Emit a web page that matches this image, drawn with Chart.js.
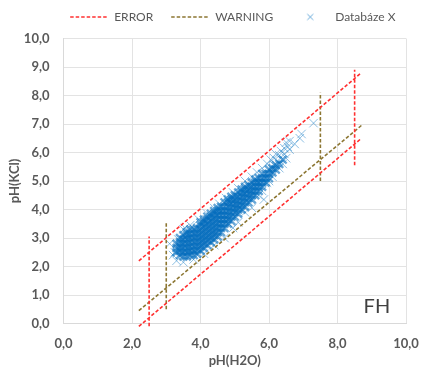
<!DOCTYPE html>
<html>
<head>
<meta charset="utf-8">
<script src="https://cdn.jsdelivr.net/npm/chart.js@4.4.1/dist/chart.umd.min.js"></script>
<style>
  html, body { margin: 0; padding: 0; background: #fff; }
</style>
</head>
<body>
<canvas id="phChart" width="423" height="370"></canvas>
<script>
// Databáze X - hustý shluk bodů [pH(H2O), pH(KCl)]
const jadro = [
  [3.3,2.5],[3.3,2.65],[3.3,2.8],
  [3.4,2.4],[3.4,2.55],[3.4,2.7],[3.4,2.85],[3.4,3.0],
  [3.5,2.35],[3.5,2.5],[3.5,2.65],[3.5,2.8],[3.5,2.95],[3.5,3.1],
  [3.6,2.35],[3.6,2.5],[3.6,2.65],[3.6,2.8],[3.6,2.95],[3.6,3.1],[3.6,3.2],
  [3.7,2.4],[3.7,2.55],[3.7,2.7],[3.7,2.85],[3.7,3.0],[3.7,3.15],[3.7,3.3],
  [3.8,2.4],[3.8,2.55],[3.8,2.7],[3.8,2.85],[3.8,3.0],[3.8,3.15],[3.8,3.3],
  [3.9,2.45],[3.9,2.6],[3.9,2.75],[3.9,2.9],[3.9,3.05],[3.9,3.2],[3.9,3.35],
  [4.0,2.55],[4.0,2.7],[4.0,2.85],[4.0,3.0],[4.0,3.15],[4.0,3.3],[4.0,3.45],[4.0,3.55],
  [4.1,2.65],[4.1,2.8],[4.1,2.95],[4.1,3.1],[4.1,3.25],[4.1,3.4],[4.1,3.55],[4.1,3.65],
  [4.2,2.75],[4.2,2.9],[4.2,3.05],[4.2,3.2],[4.2,3.35],[4.2,3.5],[4.2,3.65],[4.2,3.75],
  [4.3,2.85],[4.3,3.0],[4.3,3.15],[4.3,3.3],[4.3,3.45],[4.3,3.6],[4.3,3.75],[4.3,3.85],
  [4.4,2.95],[4.4,3.1],[4.4,3.25],[4.4,3.4],[4.4,3.55],[4.4,3.7],[4.4,3.85],[4.4,3.95],
  [4.5,3.05],[4.5,3.2],[4.5,3.35],[4.5,3.5],[4.5,3.65],[4.5,3.8],[4.5,3.95],[4.5,4.05],
  [4.6,3.2],[4.6,3.35],[4.6,3.5],[4.6,3.65],[4.6,3.8],[4.6,3.95],[4.6,4.1],
  [4.7,3.35],[4.7,3.5],[4.7,3.65],[4.7,3.8],[4.7,3.95],[4.7,4.1],[4.7,4.25],
  [4.8,3.5],[4.8,3.65],[4.8,3.8],[4.8,3.95],[4.8,4.1],[4.8,4.25],[4.8,4.35],
  [4.9,3.6],[4.9,3.75],[4.9,3.9],[4.9,4.05],[4.9,4.2],[4.9,4.35],[4.9,4.45],
  [5.0,3.75],[5.0,3.9],[5.0,4.05],[5.0,4.2],[5.0,4.35],[5.0,4.5],
  [5.1,3.85],[5.1,4.0],[5.1,4.15],[5.1,4.3],[5.1,4.45],[5.1,4.6],
  [5.2,4.0],[5.2,4.15],[5.2,4.3],[5.2,4.45],[5.2,4.6],[5.2,4.7],
  [5.3,4.1],[5.3,4.25],[5.3,4.4],[5.3,4.55],[5.3,4.7],[5.3,4.8],
  [5.4,4.25],[5.4,4.4],[5.4,4.55],[5.4,4.7],[5.4,4.85],
  [5.5,4.35],[5.5,4.5],[5.5,4.65],[5.5,4.8],[5.5,4.95],
  [5.6,4.5],[5.6,4.65],[5.6,4.8],[5.6,4.95],[5.6,5.05],
  [5.7,4.65],[5.7,4.8],[5.7,4.95],[5.7,5.1],
  [5.8,4.8],[5.8,4.95],[5.8,5.1],[5.8,5.25],
  [5.9,4.95],[5.9,5.1],[5.9,5.25],
  [6.0,5.1],[6.0,5.25],[6.0,5.4],
  [6.1,5.3],[6.1,5.45],
  [6.2,5.4],[6.2,5.55],
  [6.3,5.6],
  [6.4,5.75]
];

// Databáze X - řidší body na okraji shluku
const okraj = [
  [3.3,2.2],[3.25,2.5],[3.1,2.8],[3.2,2.4],[3.35,2.95],[3.5,3.3],[3.55,3.35],
  [3.7,3.45],[3.95,3.65],[4.2,3.85],[4.4,4.05],[4.55,4.2],[3.5,2.15],[3.8,2.25],
  [4.1,2.45],[4.4,2.75],[4.7,3.0],[4.95,3.35],[5.1,3.55],[5.3,3.9],[5.5,4.06],
  [4.75,4.4],[4.95,4.6],[5.1,4.75],[5.3,5.0],[5.5,5.15],[5.65,5.3],[5.8,5.45],
  [5.95,5.6],[6.05,5.75],[6.15,5.8],[6.2,5.95],[6.3,5.9],[6.35,6.05],[6.45,6.15],
  [6.5,6.35],[6.6,6.4],[6.55,6.2],[6.75,6.3],[6.9,6.5],[6.95,6.65],[7.3,7.03],
  [6.6,6.1],[6.3,5.45],[6.1,5.15],[5.94,4.94],[5.8,4.65],[5.85,4.35],[5.7,4.5],
  [6.4,5.6],[6.5,5.8],[6.0,5.0],[6.25,5.7],[6.15,5.55],[6.45,5.95]
];

// hranice ERROR (null = přerušení čáry)
const errorX = [2.2, 8.7, 8.7, 2.2, 8.7, 8.7, 2.5, 2.5, 2.5, 8.5, 8.5];
const errorY = [2.2, 8.8, null, -0.1, 6.5, null, -0.1, 3.05, null, 5.55, 8.9];

// hranice WARNING
const warningX = [2.2, 8.7, 8.7, 3.0, 3.0, 3.0, 7.5, 7.5];
const warningY = [0.45, 6.95, null, 0.5, 3.55, null, 5.0, 8.1];

const fhLabel = 'FH';

const toXY = (xs, ys) => xs.map((x, i) => ({ x: x, y: ys[i] }));
const fromPairs = pts => pts.map(p => ({ x: p[0], y: p[1] }));
const tickFmt = v => v.toFixed(1).replace('.', ',');

Chart.defaults.font.family = "Lato, 'Open Sans', sans-serif";
Chart.defaults.font.size = 13;
Chart.defaults.color = '#595959';

// malý křížek do legendy
const legendMark = document.createElement('canvas');
legendMark.width = 9;
legendMark.height = 9;
const lm = legendMark.getContext('2d');
lm.strokeStyle = 'rgba(0,112,192,0.6)';
lm.lineWidth = 1;
lm.beginPath();
lm.moveTo(1.5, 1.5); lm.lineTo(7.5, 7.5);
lm.moveTo(7.5, 1.5); lm.lineTo(1.5, 7.5);
lm.stroke();

// text "FH" v pravém dolním rohu
const fhPlugin = {
    id: 'fhText',
    afterDatasetsDraw(chart) {
        const c = chart.ctx;
        const x = chart.scales.x.getPixelForValue(9.15);
        const y = chart.scales.y.getPixelForValue(0.6);
        c.save();
        c.font = "20px Lato, sans-serif";
        c.fillStyle = '#404040';
        c.textAlign = 'center';
        c.textBaseline = 'middle';
        c.fillText(fhLabel, x, y);
        c.restore();
    }
};

const ctx = document.getElementById('phChart');

new Chart(ctx, {
    type: 'scatter',
    data: {
        datasets: [{
            type: 'line',
            label: 'ERROR',
            data: toXY(errorX, errorY),
            borderColor: '#ff3030',
            borderWidth: 1.6,
            borderDash: [3.5, 2],
            pointRadius: 0,
            pointStyle: 'line',
            spanGaps: false,
            clip: false,
            order: 1
        }, {
            type: 'line',
            label: 'WARNING',
            data: toXY(warningX, warningY),
            borderColor: '#8c7632',
            borderWidth: 1.6,
            borderDash: [3.5, 2],
            pointRadius: 0,
            pointStyle: 'line',
            spanGaps: false,
            order: 2
        }, {
            label: 'Databáze X',
            data: fromPairs(okraj),
            pointStyle: 'crossRot',
            pointRadius: 6,
            pointBorderWidth: 1,
            borderColor: 'rgba(0,112,192,0.45)',
            backgroundColor: 'rgba(0,112,192,0.45)',
            order: 3
        }, {
            label: 'jadro',
            data: fromPairs(jadro),
            pointStyle: 'crossRot',
            pointRadius: 5.5,
            pointBorderWidth: 2.4,
            borderColor: 'rgba(0,106,188,0.6)',
            backgroundColor: 'rgba(0,106,188,0.6)',
            order: 4
        }]
    },
    options: {
        responsive: false,
        animation: false,
        layout: {
            padding: { left: 0, right: 9.5, top: -7, bottom: 0 }
        },
        plugins: {
            legend: {
                weight: 3000,
                align: 'end',
                labels: {
                    usePointStyle: true,
                    pointStyleWidth: 38,
                    boxHeight: 6,
                    padding: 18,
                    font: { size: 12 },
                    color: '#595959',
                    filter: item => item.text !== 'jadro',
                    generateLabels: chart => {
                        const items = Chart.defaults.plugins.legend.labels.generateLabels(chart);
                        items.forEach(it => {
                            if (it.text === 'Databáze X') {
                                it.pointStyle = legendMark;
                            } else {
                                it.lineDash = [3.5, 2];
                                it.lineWidth = 1.6;
                            }
                        });
                        return items;
                    }
                }
            },
            title: {
                display: true,
                text: ' ',
                font: { size: 1 },
                padding: { top: 0, bottom: 4.3 }
            },
            tooltip: { enabled: false }
        },
        scales: {
            x: {
                min: 0,
                max: 10,
                afterFit: s => {
                    s.height = 46.5;
                    s.paddingLeft = 0;
                    s.paddingRight = 17;
                },
                ticks: {
                    stepSize: 2,
                    padding: 13,
                    font: { weight: 'bold' },
                    callback: tickFmt
                },
                grid: { color: '#e3e3e3', drawTicks: false },
                border: { color: '#d9d9d9' },
                title: {
                    display: true,
                    text: 'pH(H2O)',
                    font: { weight: 'bold', size: 13 },
                    padding: { top: 0, bottom: 1 }
                }
            },
            y: {
                min: 0,
                max: 10,
                afterFit: s => { s.width = 63.5; },
                ticks: {
                    stepSize: 1,
                    padding: 14,
                    font: { weight: 'bold' },
                    callback: tickFmt
                },
                grid: { color: '#e3e3e3', drawTicks: false },
                border: { color: '#d9d9d9' },
                title: {
                    display: true,
                    text: 'pH(KCl)',
                    font: { weight: 'bold', size: 13 },
                    padding: { top: 7, bottom: 0 }
                }
            }
        }
    },
    plugins: [fhPlugin]
});
</script>
</body>
</html>
